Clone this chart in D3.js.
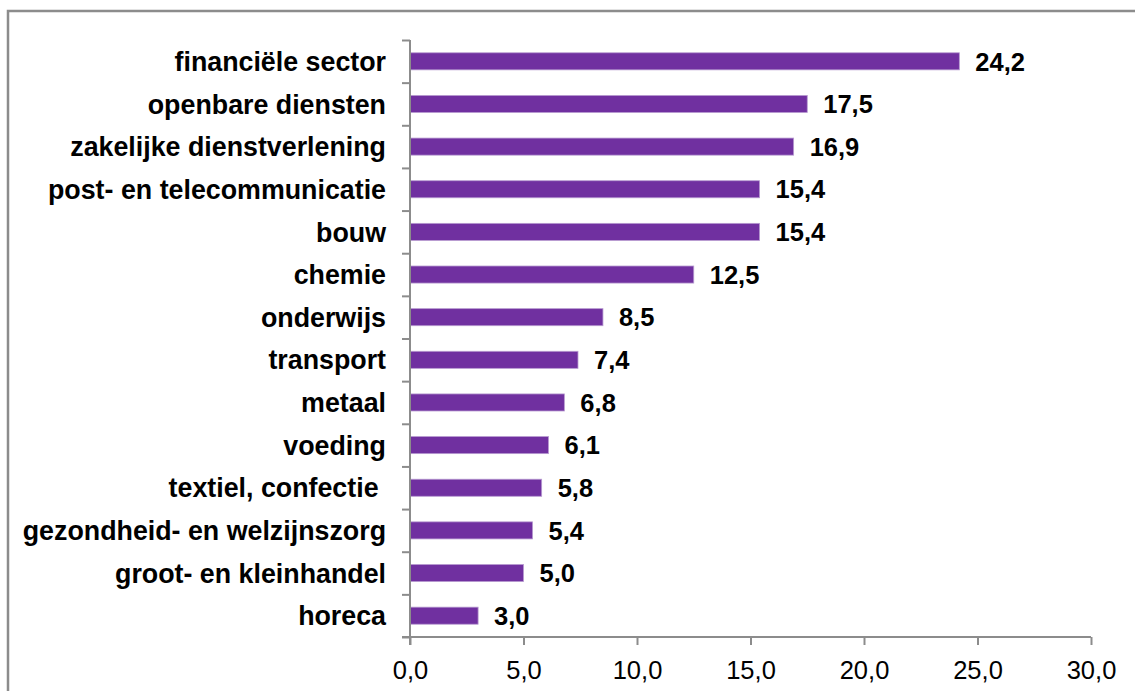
<!DOCTYPE html>
<html><head><meta charset="utf-8">
<script src="https://cdn.jsdelivr.net/npm/d3@7"></script>
<style>body{margin:0;background:#fff}svg{display:block}text{font-family:"Liberation Sans",Arial,sans-serif}</style>
</head><body><svg id="c" width="1135" height="691"></svg>
<script>
const categories = ["financiële sector","openbare diensten","zakelijke dienstverlening","post- en telecommunicatie","bouw","chemie","onderwijs","transport","metaal","voeding","textiel, confectie ","gezondheid- en welzijnszorg","groot- en kleinhandel","horeca"];
const values = [24.2,17.5,16.9,15.4,15.4,12.5,8.5,7.4,6.8,6.1,5.8,5.4,5.0,3.0];
const xTicks = [0,5,10,15,20,25,30];

const svg = d3.select("#c");
const fmt = v => d3.format(".1f")(v).replace(".", ",");

// frame
svg.append("path").attr("d","M8,691 V11 H1135").attr("fill","none").attr("stroke","#8c8c8c").attr("stroke-width",2.5);

const x = d3.scaleLinear().domain([0,30]).range([410,1091]);
const y = d3.scaleBand().domain(categories).range([40,637]).paddingInner(0.6).paddingOuter(0.3);

// bars
svg.selectAll("rect.bar").data(values).join("rect").attr("class","bar")
  .attr("x", x(0)).attr("y",(d,i)=>y(categories[i]))
  .attr("width", d=>x(d)-x(0)).attr("height", y.bandwidth())
  .attr("fill","#7030A0").attr("stroke","#b79ad0").attr("stroke-width",0.8);

// value labels
svg.selectAll("text.val").data(values).join("text").attr("class","val")
  .attr("x", d=>x(d)+16).attr("y",(d,i)=>y(categories[i])+y.bandwidth()/2)
  .attr("dy","0.36em").attr("font-size",25.5).attr("font-weight","bold").attr("fill","#000")
  .text(fmt);

// y axis
const yb = d3.scaleLinear().domain([0,categories.length]).range([40,637]);
const yAxis = d3.axisLeft(yb).tickValues(d3.range(0,categories.length+1)).tickSize(8).tickFormat("");
const gy = svg.append("g").attr("transform","translate(410,0)").call(yAxis);
gy.select(".domain").attr("d","M0,40V645").attr("stroke","#8c8c8c").attr("stroke-width",2);
gy.selectAll(".tick line").attr("stroke","#8c8c8c").attr("stroke-width",2);

// category labels
svg.selectAll("text.cat").data(categories).join("text").attr("class","cat")
  .attr("x",386).attr("y",d=>y(d)+y.bandwidth()/2).attr("dy","0.36em")
  .attr("text-anchor","end").attr("font-size",26.8).attr("font-weight","bold").attr("fill","#000")
  .style("white-space","pre")
  .text(d=>d);

// x axis
const xAxis = d3.axisBottom(x).tickValues(xTicks).tickSize(8).tickPadding(16).tickFormat(fmt);
const gx = svg.append("g").attr("transform","translate(0,637)").call(xAxis);
gx.select(".domain").attr("d","M402,0H1091").attr("stroke","#8c8c8c").attr("stroke-width",2);
gx.selectAll(".tick line").attr("stroke","#8c8c8c").attr("stroke-width",2);
gx.selectAll(".tick text").attr("font-size",25.5).attr("fill","#000").attr("font-family","Liberation Sans, Arial, sans-serif");
</script></body></html>
